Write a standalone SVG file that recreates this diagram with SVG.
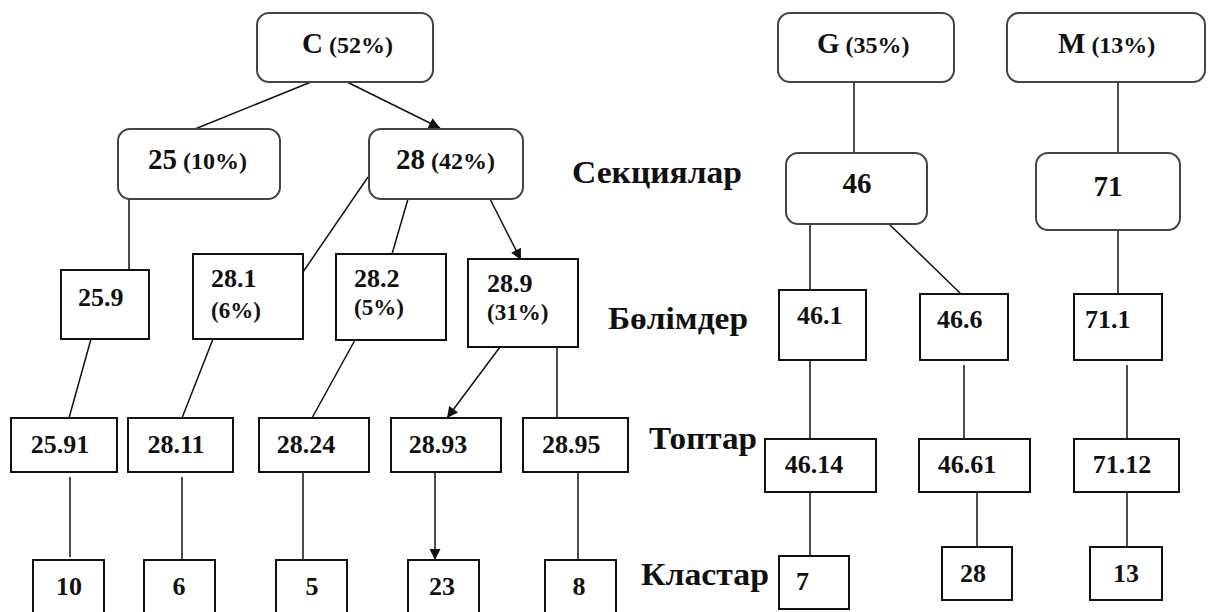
<svg xmlns="http://www.w3.org/2000/svg" width="1209" height="612" viewBox="0 0 1209 612">
<defs>
<style>
text{font-family:'Liberation Serif','Times New Roman',serif;font-weight:bold;fill:#111}
.rr{fill:#fff;stroke:#444;stroke-width:2}
.bx{fill:#fff;stroke:#111;stroke-width:2}
.big{font-size:29px}
.pct{font-size:24px}
.n{font-size:26px}
.p3{font-size:23px}
.lvl{font-size:31px}
.c{text-anchor:middle}
#connectors line{stroke:#111;stroke-width:1.5}
</style>
<marker id="ah" viewBox="0 0 10 10" refX="10" refY="5" markerWidth="12" markerHeight="11" markerUnits="userSpaceOnUse" orient="auto">
<path d="M0,0 L10,5 L0,10 Z" fill="#111"/>
</marker>
</defs>
<rect width="1209" height="612" fill="#fff"/>

<g id="connectors">
<line x1="311" y1="82" x2="195" y2="129"/>
<line x1="347" y1="82" x2="440" y2="128" marker-end="url(#ah)"/>
<line x1="854" y1="82" x2="854" y2="153"/>
<line x1="1118" y1="82" x2="1118" y2="153"/>
<line x1="129" y1="199" x2="129" y2="270"/>
<line x1="368" y1="177" x2="303" y2="272"/>
<line x1="408" y1="199" x2="392" y2="254"/>
<line x1="490" y1="199" x2="521" y2="260" marker-end="url(#ah)"/>
<line x1="810" y1="224" x2="810" y2="290"/>
<line x1="889" y1="224" x2="961" y2="294"/>
<line x1="1118" y1="230" x2="1118" y2="294"/>
<line x1="91" y1="339" x2="69" y2="418"/>
<line x1="213" y1="339" x2="182" y2="418"/>
<line x1="355" y1="340" x2="312" y2="418"/>
<line x1="500" y1="347" x2="447" y2="418" marker-end="url(#ah)"/>
<line x1="557" y1="347" x2="557" y2="418"/>
<line x1="810" y1="360" x2="810" y2="439"/>
<line x1="964" y1="365" x2="964" y2="453"/>
<line x1="1127" y1="365" x2="1127" y2="450"/>
<line x1="70" y1="477" x2="70" y2="557"/>
<line x1="182" y1="477" x2="182" y2="565"/>
<line x1="303" y1="472" x2="303" y2="560"/>
<line x1="435" y1="472" x2="435" y2="560" marker-end="url(#ah)"/>
<line x1="578" y1="472" x2="578" y2="560"/>
<line x1="810" y1="492" x2="810" y2="560"/>
<line x1="977" y1="492" x2="977" y2="557"/>
<line x1="1127" y1="492" x2="1127" y2="547"/>
</g>

<g id="node-C"><rect class="rr" x="257" y="13" width="176" height="69" rx="12"/><text x="302" y="53"><tspan class="big">C</tspan><tspan class="pct"> (52%)</tspan></text></g>
<g id="node-G"><rect class="rr" x="778" y="13" width="176" height="69" rx="12"/><text x="817" y="53"><tspan class="big">G</tspan><tspan class="pct"> (35%)</tspan></text></g>
<g id="node-M"><rect class="rr" x="1007" y="13" width="198" height="69" rx="12"/><text x="1058" y="53"><tspan class="big">M</tspan><tspan class="pct"> (13%)</tspan></text></g>

<g id="node-25"><rect class="rr" x="118" y="129" width="162" height="70" rx="12"/><text x="148" y="169"><tspan class="big">25</tspan><tspan class="pct"> (10%)</tspan></text></g>
<g id="node-28"><rect class="rr" x="369" y="129" width="154" height="70" rx="12"/><text x="396" y="169"><tspan class="big">28</tspan><tspan class="pct"> (42%)</tspan></text></g>
<g id="node-46"><rect class="rr" x="786" y="153" width="141" height="71" rx="12"/><text class="big c" x="857" y="193">46</text></g>
<g id="node-71"><rect class="rr" x="1036" y="153" width="144" height="77" rx="12"/><text class="big c" x="1108" y="196">71</text></g>

<g id="label-sections"><text class="lvl" x="572" y="183" textLength="170" lengthAdjust="spacingAndGlyphs">Секциялар</text></g>
<g id="label-divisions"><text class="lvl" x="608" y="329" textLength="140" lengthAdjust="spacingAndGlyphs">Бөлімдер</text></g>
<g id="label-groups"><text class="lvl" x="649" y="449" textLength="108" lengthAdjust="spacingAndGlyphs">Топтар</text></g>
<g id="label-clusters"><text class="lvl" x="641" y="585" textLength="128" lengthAdjust="spacingAndGlyphs">Кластар</text></g>

<g id="node-25.9"><rect class="bx" x="61" y="270" width="88" height="69"/><text class="n" x="78" y="306">25.9</text></g>
<g id="node-28.1"><rect class="bx" x="193" y="254" width="110" height="85"/><text class="n" x="211" y="287">28.1</text><text class="p3" x="211" y="318">(6%)</text></g>
<g id="node-28.2"><rect class="bx" x="336" y="254" width="110" height="86"/><text class="n" x="354" y="287">28.2</text><text class="p3" x="354" y="315">(5%)</text></g>
<g id="node-28.9"><rect class="bx" x="468" y="259" width="110" height="88"/><text class="n" x="487" y="292">28.9</text><text class="p3" x="487" y="320">(31%)</text></g>
<g id="node-46.1"><rect class="bx" x="779" y="290" width="87" height="70"/><text class="n" x="797" y="324">46.1</text></g>
<g id="node-46.6"><rect class="bx" x="920" y="294" width="88" height="66"/><text class="n" x="937" y="328">46.6</text></g>
<g id="node-71.1"><rect class="bx" x="1074" y="294" width="88" height="66"/><text class="n" x="1085" y="328">71.1</text></g>

<g id="node-25.91"><rect class="bx" x="11" y="418" width="106" height="54"/><text class="n c" x="60" y="453">25.91</text></g>
<g id="node-28.11"><rect class="bx" x="128" y="418" width="105" height="54"/><text class="n c" x="176" y="453">28.11</text></g>
<g id="node-28.24"><rect class="bx" x="259" y="418" width="110" height="54"/><text class="n c" x="306" y="453">28.24</text></g>
<g id="node-28.93"><rect class="bx" x="391" y="418" width="110" height="54"/><text class="n c" x="438" y="453">28.93</text></g>
<g id="node-28.95"><rect class="bx" x="523" y="418" width="105" height="54"/><text class="n" x="542" y="453">28.95</text></g>
<g id="node-46.14"><rect class="bx" x="765" y="439" width="111" height="53"/><text class="n c" x="814" y="473">46.14</text></g>
<g id="node-46.61"><rect class="bx" x="919" y="439" width="111" height="53"/><text class="n c" x="967" y="473">46.61</text></g>
<g id="node-71.12"><rect class="bx" x="1074" y="439" width="105" height="53"/><text class="n c" x="1122" y="473">71.12</text></g>

<g id="node-10"><rect class="bx" x="33" y="560" width="71" height="60"/><text class="n c" x="69" y="595">10</text></g>
<g id="node-6"><rect class="bx" x="144" y="560" width="71" height="60"/><text class="n c" x="179" y="595">6</text></g>
<g id="node-5"><rect class="bx" x="276" y="560" width="71" height="60"/><text class="n c" x="312" y="595">5</text></g>
<g id="node-23"><rect class="bx" x="408" y="560" width="71" height="60"/><text class="n c" x="442" y="595">23</text></g>
<g id="node-8"><rect class="bx" x="545" y="560" width="71" height="60"/><text class="n c" x="579" y="595">8</text></g>
<g id="node-7"><rect class="bx" x="779" y="556" width="70" height="53"/><text class="n" x="796" y="590">7</text></g>
<g id="node-28c"><rect class="bx" x="942" y="547" width="70" height="53"/><text class="n c" x="973" y="582">28</text></g>
<g id="node-13"><rect class="bx" x="1090" y="547" width="72" height="53"/><text class="n c" x="1126" y="582">13</text></g>
</svg>
